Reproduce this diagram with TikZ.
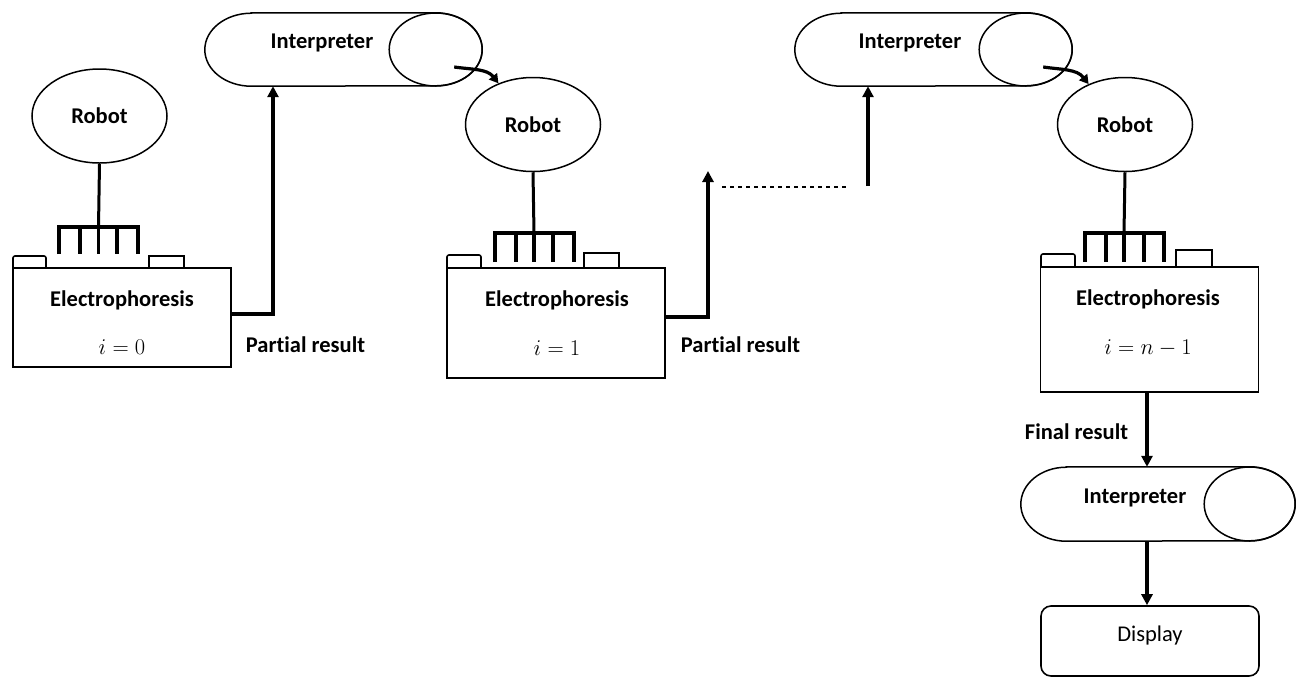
\RequirePackage{fix-cm}
\documentclass[tikz,border=0pt]{standalone}
\usepackage{fontspec}
\setmainfont{Carlito}[Ligatures=NoCommon]
\usetikzlibrary{arrows.meta,calc,shapes.geometric}
\newcommand\interpshape[3]{%
  \draw[outline] ($(#1.north west)+(#2,0)$) -- ($(#1.north east)-(#2,0)$)
    arc[start angle=90,end angle=-90,x radius=#2,y radius=#3]
    -- ($(#1.south west)+(#2,0)$)
    arc[start angle=270,end angle=90,x radius=#2,y radius=#3] -- cycle;
  \draw[outline] ($(#1.east)-(#2,0)$) ellipse[x radius=#2, y radius=#3];}
\tikzset{
  lbl/.style={font=\fontsize{22.5}{27}\selectfont\bfseries, inner sep=0pt},
  reg/.style={font=\fontsize{22.5}{27}\selectfont, inner sep=0pt},
  outline/.style={draw=black, line width=1.5pt},
  robotst/.style={ellipse, draw, line width=1.5pt, minimum width=135pt, minimum height=94pt, inner sep=0pt, font=\fontsize{22.5}{27}\selectfont\bfseries},
  boxst/.style={draw, line width=1.8pt, minimum width=218pt, inner sep=0pt},
  intbox/.style={minimum width=277pt, minimum height=73pt, inner sep=0pt},
  comb/.style={line width=3.5pt},
  stem/.style={line width=3pt},
  tabst/.style={line width=1.6pt},
  conn/.style={line width=3.2pt, -{Triangle[width=11pt,length=11pt]}},
  curv/.style={line width=3.2pt, -{Triangle[width=10pt,length=9pt]}},
  dots/.style={line width=2pt, dash pattern=on 4pt off 4pt},
}
\begin{document}
\begin{tikzpicture}[x=1pt,y=1pt]
\useasboundingbox (0,0) rectangle (1296,-678);

% ---------- stage 0 ----------
\node[robotst] (r1) at (99.5,-116) {Robot};
\coordinate (k1) at (98.5,-227);
\draw[stem] (r1.south) -- (k1);
\draw[comb] (59,-254) -- (59,-227) -- (138,-227) -- (138,-254);
\draw[comb] (80,-227) -- (80,-254) (98.5,-227) -- (98.5,-254) (117,-227) -- (117,-254);
\draw[tabst, rounded corners=2pt] (13,-268) -- (13,-256) -- (46,-256) -- (46,-268);
\draw[tabst] (149,-268) rectangle (184,-256);
\node[boxst, minimum height=99pt] (b1) at (122,-317.5) {};
\node[lbl, anchor=base] (e1) at (122,-306) {Electrophoresis};
\node[reg, anchor=base] (m1) at (122,-354) {$i=0$};
\node[lbl, anchor=base] (p1) at (305.5,-352) {Partial result};

\node[intbox] (i1) at (343.5,-49.5) {};
\interpshape{i1}{46.5}{36.5}
\node[lbl, anchor=base] (i1t) at (322,-48) {Interpreter};
\draw[conn] ([yshift=3.5pt]b1.east) -| ([xshift=-70.5pt]i1.south);

% ---------- stage 1 ----------
\node[robotst] (r2) at (533,-124.5) {Robot};
\draw[curv] ($(i1.east)+(-28,-17.5)$) to[out=-8, in=128] (r2.130);
\coordinate (k2) at (534,-233);
\draw[stem] (r2.south) -- (k2);
\draw[comb] (495,-262) -- (495,-233) -- (574,-233) -- (574,-262);
\draw[comb] (516,-233) -- (516,-262) (534,-233) -- (534,-262) (553,-233) -- (553,-262);
\draw[tabst, rounded corners=2pt] (447,-268) -- (447,-255) -- (481,-255) -- (481,-268);
\draw[tabst] (584,-268) rectangle (619,-253);
\node[boxst, minimum height=110pt] (b2) at (556,-323) {};
\node[lbl, anchor=base] (e2) at (557,-306) {Electrophoresis};
\node[reg, anchor=base] (m2) at (557,-355) {$i=1$};
\node[lbl, anchor=base] (p2t) at (740.5,-352) {Partial result};
\coordinate (p2) at (708,-171);
\draw[conn] ([yshift=6pt]b2.east) -| (p2);

% ---------- gap ----------
\coordinate (d1) at (722,-187);
\coordinate (d2) at (848,-187);
\draw[dots] (d1) -- (d2);
\coordinate (p3) at (868,-186);

% ---------- stage n-1 ----------
\node[intbox] (i2) at (933.5,-49.5) {};
\interpshape{i2}{46.5}{36.5}
\node[lbl, anchor=base] (i2t) at (910,-48) {Interpreter};
\draw[conn] (p3) -- ([xshift=-65.5pt]i2.south);

\node[robotst] (r3) at (1125,-124.5) {Robot};
\draw[curv] ($(i2.east)+(-29,-17.5)$) to[out=-8, in=128] (r3.132);
\coordinate (k3) at (1124,-233);
\draw[stem] (r3.south) -- (k3);
\draw[comb] (1085,-262) -- (1085,-233) -- (1164,-233) -- (1164,-262);
\draw[comb] (1106,-233) -- (1106,-262) (1124,-233) -- (1124,-262) (1144,-233) -- (1144,-262);
\draw[tabst, rounded corners=2pt] (1041,-267) -- (1041,-254) -- (1075,-254) -- (1075,-267);
\draw[tabst] (1176,-267) rectangle (1212,-250);
\node[boxst, minimum height=125pt] (b3) at (1149.5,-329.5) {};
\node[lbl, anchor=base] (e3) at (1148,-305) {Electrophoresis};
\node[reg, anchor=base] (m3) at (1148,-354) {$i=n-1$};

\node[lbl, anchor=base] (fr) at (1076.5,-439) {Final result};
\node[intbox, minimum width=274pt, minimum height=74pt] (i3) at (1158,-504) {};
\interpshape{i3}{45.5}{37}
\node[lbl, anchor=base] (i3t) at (1135,-503) {Interpreter};
\coordinate (b3x) at ([xshift=-2.5pt]b3.south);
\draw[conn] (b3x) -- (i3.north -| b3x);

\node[draw, line width=1.6pt, rounded corners=10pt, minimum width=218pt, minimum height=70pt] (disp) at (1150,-641) {};
\node[reg, anchor=base] (dt) at (1150,-641) {Display};
\draw[conn] (i3.south -| b3x) -- (disp.north -| b3x);
\end{tikzpicture}
\end{document}
